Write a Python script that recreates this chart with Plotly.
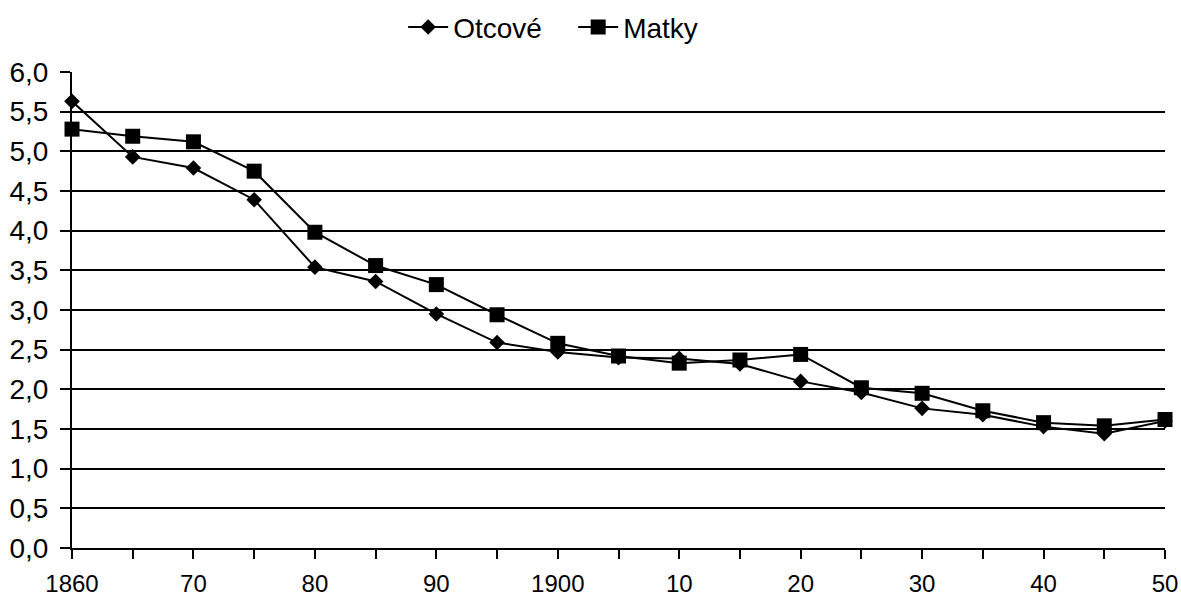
import plotly.graph_objects as go

# Years (every 5) and label text shown on the axis
years = list(range(1860, 1951, 5))
year_labels = ["1860", "", "70", "", "80", "", "90", "", "1900", "",
               "10", "", "20", "", "30", "", "40", "", "50"]

otcove = [5.63, 4.93, 4.79, 4.39, 3.54, 3.36, 2.95, 2.59, 2.47, 2.40,
          2.39, 2.32, 2.10, 1.96, 1.76, 1.68, 1.53, 1.44, 1.60]
matky = [5.28, 5.19, 5.12, 4.75, 3.98, 3.56, 3.32, 2.94, 2.58, 2.42,
         2.33, 2.37, 2.44, 2.02, 1.95, 1.73, 1.58, 1.54, 1.62]

y_ticks = [i * 0.5 for i in range(13)]

FONT = "Liberation Sans, Arial, sans-serif"

fig = go.Figure()
fig.add_trace(go.Scatter(
    x=years, y=otcove, mode="lines+markers", name="Otcové",
    line=dict(color="black", width=2),
    marker=dict(symbol="diamond", size=12, color="black"),
    cliponaxis=False,
))
fig.add_trace(go.Scatter(
    x=years, y=matky, mode="lines+markers", name="Matky",
    line=dict(color="black", width=2),
    marker=dict(symbol="square", size=15, color="black"),
    cliponaxis=False,
))

fig.update_layout(
    width=1181, height=596,
    margin=dict(l=72, r=16, t=72, b=48, autoexpand=False),
    paper_bgcolor="white", plot_bgcolor="white",
    font=dict(family=FONT, size=27, color="black"),
    separators=",.",
    showlegend=True,
    legend=dict(orientation="h", x=0.303, xanchor="left", y=1.094, yanchor="middle",
                font=dict(size=28), itemwidth=40, tracegroupgap=0,
                entrywidth=115, entrywidthmode="pixels",
                bgcolor="rgba(0,0,0,0)"),
)
fig.update_xaxes(
    range=[1860, 1950], tickvals=years, ticktext=year_labels,
    showgrid=False, zeroline=False,
    showline=True, linecolor="black", linewidth=2,
    ticks="outside", ticklen=9, tickwidth=2, tickcolor="black",
    tickfont=dict(size=24), ticklabelstandoff=4,
)
fig.update_yaxes(
    range=[0, 6], tickvals=y_ticks, tickformat=".1f",
    showgrid=True, gridcolor="black", gridwidth=2,
    zeroline=False,
    showline=True, linecolor="black", linewidth=2,
    ticks="outside", ticklen=10, tickwidth=2, tickcolor="black",
    tickfont=dict(size=28), ticklabelstandoff=6,
)

# drop the browser's default page margin so the figure sits at 0,0
fig.write_html("out.html", config={"displayModeBar": False},
               post_script="document.body.style.margin='0';")
